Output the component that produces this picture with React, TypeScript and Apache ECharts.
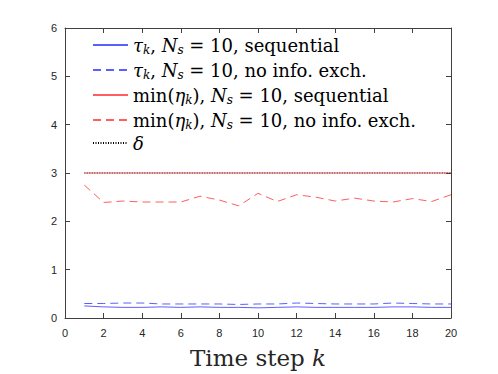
import React, { useEffect, useRef } from "react";
import * as echarts from "echarts";

const steps = [1, 2, 3, 4, 5, 6, 7, 8, 9, 10, 11, 12, 13, 14, 15, 16, 17, 18, 19, 20];
const tauSeq = [0.25, 0.23, 0.22, 0.22, 0.23, 0.22, 0.23, 0.22, 0.22, 0.21, 0.22, 0.23, 0.22, 0.22, 0.22, 0.22, 0.23, 0.23, 0.22, 0.22];
const tauNoInfo = [0.3, 0.3, 0.31, 0.31, 0.29, 0.29, 0.29, 0.29, 0.28, 0.29, 0.29, 0.31, 0.3, 0.29, 0.29, 0.29, 0.31, 0.3, 0.29, 0.29];
const etaSeq = [3, 3, 3, 3, 3, 3, 3, 3, 3, 3, 3, 3, 3, 3, 3, 3, 3, 3, 3, 3];
const etaNoInfo = [2.75, 2.39, 2.42, 2.4, 2.4, 2.4, 2.52, 2.44, 2.32, 2.58, 2.41, 2.55, 2.5, 2.42, 2.48, 2.42, 2.4, 2.47, 2.41, 2.55];
const delta = [3, 3, 3, 3, 3, 3, 3, 3, 3, 3, 3, 3, 3, 3, 3, 3, 3, 3, 3, 3];

const legendRich: Record<string, string> = {
  s1: "{it|τ}{sub|k}{rm|, }{it|N}{sub|s}{rm| = 10, sequential}",
  s2: "{it|τ}{sub|k}{rm|, }{it|N}{sub|s}{rm| = 10, no info. exch.}",
  s3: "{rm|min(}{it|η}{sub|k}{rm|), }{it|N}{sub|s}{rm| = 10, sequential}",
  s4: "{rm|min(}{it|η}{sub|k}{rm|), }{it|N}{sub|s}{rm| = 10, no info. exch.}",
  s5: "{it|δ}",
};

const pair = (ys: number[]) => steps.map((x, i) => [x, ys[i]]);

export default function App() {
  const ref = useRef<HTMLDivElement>(null);
  useEffect(() => {
    if (!ref.current) return;
    const chart = echarts.init(ref.current, undefined, { renderer: "svg" });
    const serif = "DejaVu Serif";
    const axisColor = "#404040";
    const labelStyle = { fontFamily: "Liberation Sans", fontSize: 11, color: "#262626" };
    const blue = "rgba(40,40,255,0.75)";
    const red = "rgba(255,40,40,0.75)";
    const boxAxis = {
      axisLine: { show: true, onZero: false, lineStyle: { color: axisColor, width: 1 } },
      axisTick: { show: true, inside: true, length: 5, lineStyle: { color: axisColor } },
      splitLine: { show: false },
    };
    chart.setOption({
      animation: false,
      backgroundColor: "#ffffff",
      grid: { left: 65, right: 47, top: 28, bottom: 53 },
      legend: {
        left: 87,
        top: 29,
        orient: "vertical",
        itemWidth: 35,
        itemHeight: 12,
        itemGap: 3,
        itemStyle: { opacity: 0 },
        data: ["s1", "s2", "s3", "s4", "s5"],
        formatter: (n: string) => legendRich[n],
        textStyle: {
          fontFamily: serif,
          fontSize: 18,
          color: "#000",
          rich: {
            rm: { fontFamily: serif, fontSize: 18, color: "#000", lineHeight: 22 },
            it: { fontFamily: serif, fontSize: 18, fontStyle: "italic", color: "#000", lineHeight: 22 },
            sub: { fontFamily: serif, fontSize: 12, fontStyle: "italic", color: "#000", lineHeight: 22, padding: [10, 0, 0, 0] },
          },
        },
      },
      xAxis: [
        {
          type: "value",
          min: 0,
          max: 20,
          interval: 2,
          name: "{rm|Time step }{it|k}",
          nameLocation: "middle",
          nameGap: 28,
          nameTextStyle: {
            rich: {
              rm: { fontFamily: serif, fontSize: 23, color: "#262626" },
              it: { fontFamily: serif, fontSize: 23, fontStyle: "italic", color: "#262626" },
            },
          },
          ...boxAxis,
          axisLabel: { ...labelStyle, margin: 9 },
        },
        {
          type: "value",
          position: "top",
          min: 0,
          max: 20,
          interval: 2,
          ...boxAxis,
          axisLabel: { show: false },
        },
      ],
      yAxis: [
        {
          type: "value",
          min: 0,
          max: 6,
          interval: 1,
          ...boxAxis,
          axisLabel: { ...labelStyle, margin: 8 },
        },
        {
          type: "value",
          position: "right",
          min: 0,
          max: 6,
          interval: 1,
          ...boxAxis,
          axisLabel: { show: false },
        },
      ],
      series: [
        { name: "s1", type: "line", symbol: "none", data: pair(tauSeq), lineStyle: { color: blue, width: 1 }, itemStyle: { color: blue } },
        { name: "s2", type: "line", symbol: "none", data: pair(tauNoInfo), lineStyle: { color: blue, width: 1, type: [8, 5] }, itemStyle: { color: blue } },
        { name: "s3", type: "line", symbol: "none", data: pair(etaSeq), lineStyle: { color: red, width: 1 }, itemStyle: { color: red } },
        { name: "s4", type: "line", symbol: "none", data: pair(etaNoInfo), lineStyle: { color: red, width: 1, type: [8, 5] }, itemStyle: { color: red } },
        { name: "s5", type: "line", symbol: "none", data: pair(delta), lineStyle: { color: "#000", width: 0.8, type: [1, 1.5] }, itemStyle: { color: "#000" } },
      ],
    });
    return () => chart.dispose();
  }, []);
  return <div ref={ref} style={{ width: 498, height: 374, position: "absolute", left: 0, top: 0 }} />;
}
